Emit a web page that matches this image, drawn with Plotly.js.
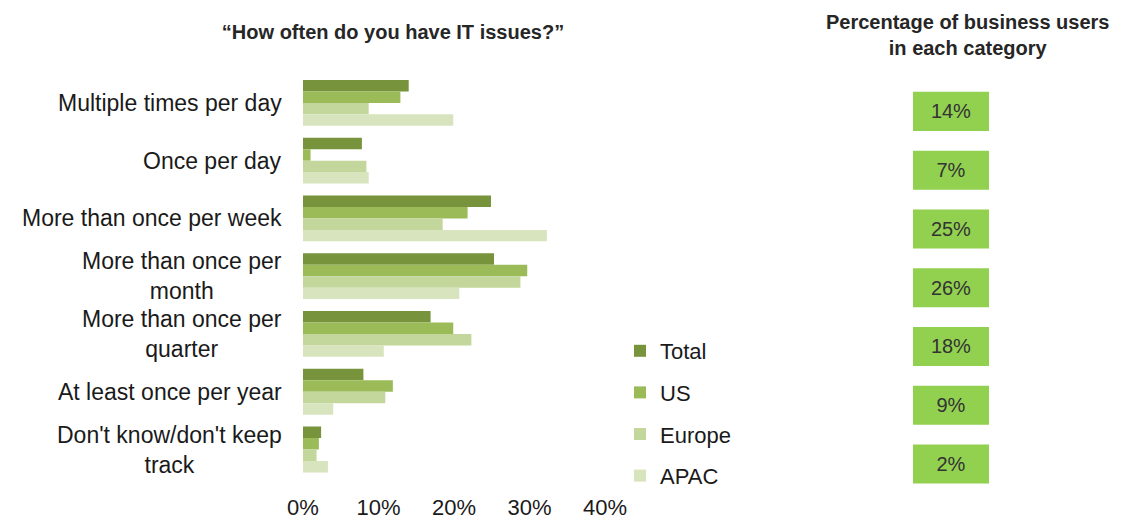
<!DOCTYPE html>
<html>
<head>
<meta charset="utf-8">
<script src="https://cdn.plot.ly/plotly-3.0.1.min.js"></script>
<style>html,body{margin:0;padding:0;background:#fff;}#chart{width:1125px;height:521px;}</style>
</head>
<body>
<div id="chart"></div>
<script>
// ---- data ----
const categories = [
  "Multiple times per day",
  "Once per day",
  "More than once per week",
  "More than once per<br>month",
  "More than once per<br>quarter",
  "At least once per year",
  "Don't know/don't keep<br>track"
];
const totalValues  = [14.0, 7.8, 24.9, 25.3, 16.9, 8.0, 2.4];
const usValues     = [12.9, 1.0, 21.8, 29.7, 19.9, 11.9, 2.1];
const europeValues = [8.7, 8.4, 18.5, 28.8, 22.3, 10.9, 1.8];
const apacValues   = [19.9, 8.7, 32.3, 20.7, 10.7, 4.0, 3.3];
const userShare    = [14, 7, 25, 26, 18, 9, 2];
const seriesNames  = ["Total", "US", "Europe", "APAC"];
const xTickVals    = [0, 10, 20, 30, 40];
const xTickText    = ["0%", "10%", "20%", "30%", "40%"];

// ---- styling ----
const FONT = "Arial, 'Liberation Sans', sans-serif";
const colors = ["#77933c", "#9bbb59", "#c3d69b", "#d7e4bd"];
const seriesValues = [totalValues, usValues, europeValues, apacValues];

const traces = seriesValues.map((vals, i) => ({
  type: "bar",
  orientation: "h",
  name: seriesNames[i],
  legendgroup: seriesNames[i],
  x: vals,
  y: categories,
  marker: {color: colors[i], line: {width: 0}},
  hoverinfo: "skip",
  xaxis: "x",
  yaxis: "y"
}));

traces.push({
  type: "bar",
  orientation: "h",
  showlegend: false,
  x: userShare.map(() => 1),
  y: categories,
  width: 0.664,
  text: userShare.map(v => v + "%"),
  textposition: "inside",
  insidetextanchor: "middle",
  constraintext: "none",
  textfont: {family: FONT, size: 20, color: "#333333"},
  marker: {color: "#92d050", line: {width: 0}},
  hoverinfo: "skip",
  xaxis: "x2",
  yaxis: "y2"
});

const annotations = categories.map(c => ({
  xref: "paper", yref: "y",
  x: 284 / 1125, y: c,
  xanchor: "right", yanchor: "middle",
  align: "center",
  text: c,
  showarrow: false,
  font: {family: FONT, size: 23, color: "#1a1a1a"}
}));
annotations.push({
  xref: "paper", yref: "paper",
  x: 967 / 1125, y: 1 - 35 / 521,
  xanchor: "center", yanchor: "middle",
  align: "center",
  text: "<b>Percentage of business users<br>in each category</b>",
  showarrow: false,
  font: {family: FONT, size: 20, color: "#262626"}
});

const layout = {
  width: 1125, height: 521,
  margin: {l: 0, r: 0, t: 0, b: 0},
  paper_bgcolor: "#ffffff",
  plot_bgcolor: "#ffffff",
  font: {family: FONT, size: 20, color: "#1a1a1a"},
  title: {
    text: "<b>“How often do you have IT issues?”</b>",
    x: 393 / 1125, y: 1 - 32 / 521,
    xanchor: "center", yanchor: "middle",
    xref: "paper", yref: "paper",
    font: {family: FONT, size: 20, color: "#262626"}
  },
  barmode: "group",
  bargap: 0.207,
  bargroupgap: 0,
  xaxis: {
    domain: [303 / 1125, 605 / 1125],
    range: [0, 40],
    tickmode: "array",
    tickvals: xTickVals,
    ticktext: xTickText,
    ticks: "outside",
    ticklen: 8,
    tickcolor: "rgba(0,0,0,0)",
    showgrid: false,
    zeroline: false,
    showline: false,
    tickfont: {family: FONT, size: 22, color: "#1a1a1a"},
    fixedrange: true
  },
  yaxis: {
    domain: [1 - 479.5 / 521, 1 - 74 / 521],
    type: "category",
    autorange: "reversed",
    showticklabels: false,
    showgrid: false,
    zeroline: false,
    showline: false,
    ticks: "",
    fixedrange: true
  },
  xaxis2: {
    domain: [913 / 1125, 989 / 1125],
    range: [0, 1],
    visible: false,
    fixedrange: true,
    anchor: "y2"
  },
  yaxis2: {
    domain: [1 - 493.4 / 521, 1 - 82 / 521],
    type: "category",
    autorange: "reversed",
    visible: false,
    fixedrange: true,
    anchor: "x2"
  },
  legend: {
    x: 620 / 1125, y: 1 - 330 / 521,
    xanchor: "left", yanchor: "top",
    traceorder: "grouped",
    tracegroupgap: 10,
    itemwidth: 30,
    font: {family: FONT, size: 22, color: "#1a1a1a"},
    bgcolor: "rgba(0,0,0,0)",
    borderwidth: 0
  },
  annotations: annotations,
  showlegend: true
};

Plotly.newPlot("chart", traces, layout, {displayModeBar: false, staticPlot: true});
</script>
</body>
</html>
